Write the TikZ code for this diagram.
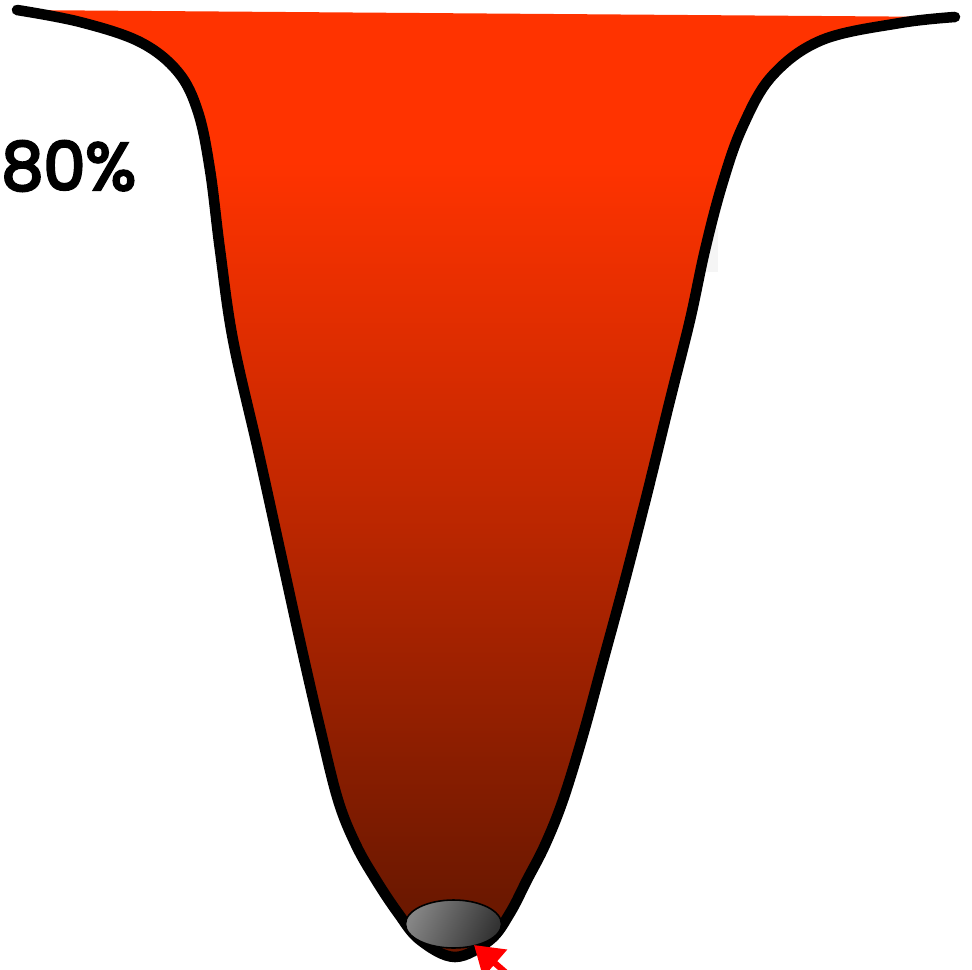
\documentclass[tikz,border=0pt]{standalone}
\usepackage{fontspec}
\newfontfamily\labelfont[FakeBold=4]{Poppins}
\usetikzlibrary{arrows.meta}
\definecolor{welltop}{RGB}{255,51,0}
\definecolor{wellmid}{RGB}{196,40,0}
\definecolor{wellbot}{RGB}{108,24,0}
\pgfdeclareverticalshading{wellshade}{100bp}{color(0bp)=(wellbot); color(28bp)=(wellbot); color(50bp)=(wellmid); color(67bp)=(welltop); color(100bp)=(welltop)}
\tikzset{
  wellline/.style={line width=6pt, line cap=round, line join=round},
  ballstyle/.style={draw=black, line width=0.9pt},
  pointer/.style={draw=red, line width=3.5pt, -{Triangle[length=16pt,width=20pt]}},
}
\begin{document}
\begin{tikzpicture}[x=0.02cm,y=-0.02cm]
\useasboundingbox (0,0) rectangle (972,969);
\def\wellpath{plot[smooth, tension=0.6] coordinates {
 (17,10) (80,22) (140,42) (178,72) (198,112) (210,170) (220,250) (233,340)
 (258,450) (280,550) (302,650) (320,728) (338,800) (356,845) (376,880) (398,913) (420,940)
 (455,957) (490,940) (510,913) (527,880) (545,845) (563,800) (583,735) (602,665) (625,580) (648,490)
 (670,400) (690,320) (705,250) (722,185) (742,128) (772,76) (822,40) (900,23) (955,17)}}
% faint artifact
\fill[gray!8] (702,228) rectangle (718,272);
\shade[shading=wellshade] \wellpath -- cycle;
\draw[wellline] \wellpath;
\node[inner sep=0pt, anchor=west] (pct) at (1,166) {\labelfont\fontsize{38}{46}\selectfont 80\%};
\shade[ballstyle, shading=axis, left color=black!48, right color=black!80, shading angle=65] (453.5,924) ellipse [x radius=48, y radius=24];
\node[inner sep=0pt, minimum size=0pt] (ball) at (453.5,924) {};
\coordinate (tail) at (512,978);
\coordinate (tip) at (474,945);
\draw[pointer] (tail) -- (tip);
\end{tikzpicture}
\end{document}
